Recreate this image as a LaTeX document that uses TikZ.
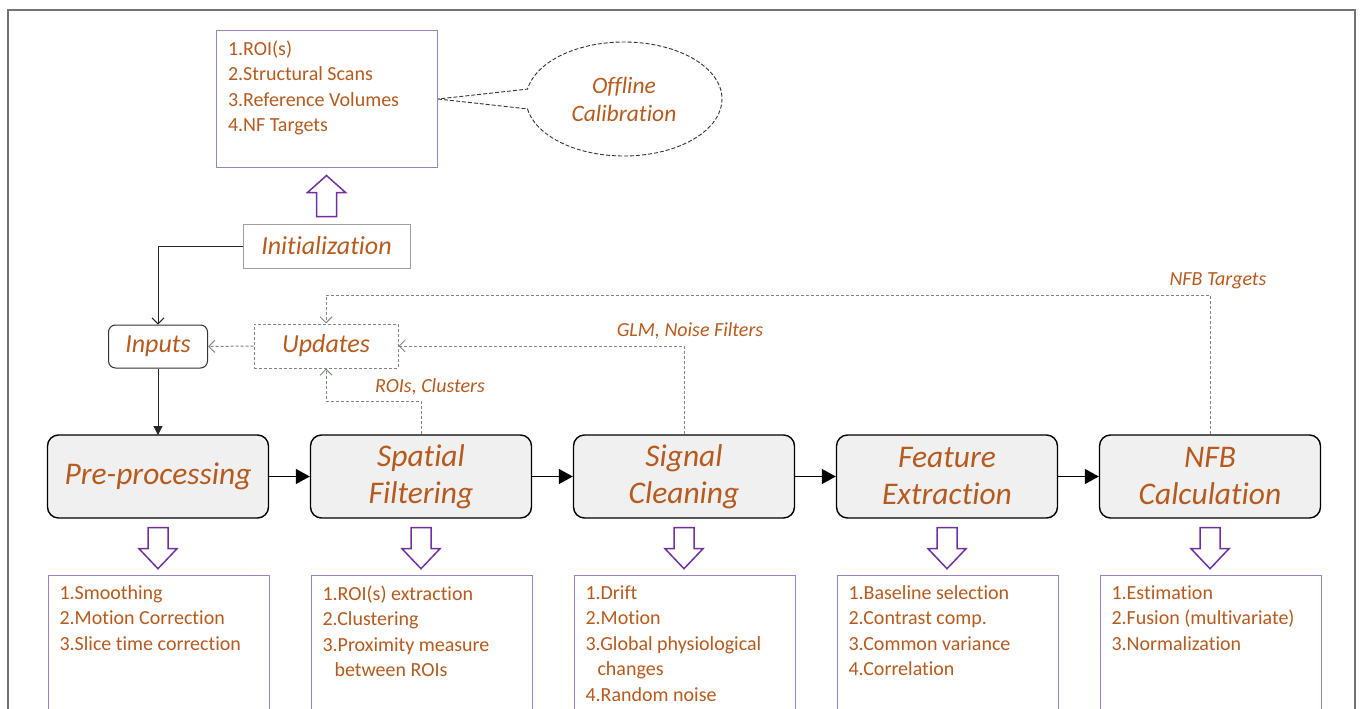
\documentclass[tikz,border=0pt]{standalone}
\usepackage{fontspec}
\setmainfont{Carlito}[Ligatures=NoCommon]
\usepackage{xcolor}
\usepackage{tikz}
\usetikzlibrary{arrows.meta,shapes.callouts}

\definecolor{txtbrown}{HTML}{B65A1E}
\definecolor{boxpurple}{HTML}{9A84BE}
\definecolor{arrpurple}{HTML}{7030A0}
\definecolor{dashgray}{HTML}{7C897C}
\definecolor{blockfill}{HTML}{F0F0F0}

\newcommand{\itemlist}[2]{\parbox[t][#1][t]{198pt}{#2}}

\begin{document}
\begin{tikzpicture}[
  x=1pt,y=-1pt,
  block/.style={draw=black,line width=1.4pt,rounded corners=11pt,fill=blockfill,
                minimum width=221pt,minimum height=83pt,align=center,text=txtbrown,
                font=\fontsize{31.5}{37}\selectfont\itshape},
  listbox/.style={draw=boxpurple,line width=1pt,fill=white,anchor=north west,
                  minimum width=221pt,inner xsep=11pt,inner ysep=10pt,text=txtbrown,
                  font=\fontsize{20}{25.5}\selectfont},
  initbox/.style={draw=gray!75,line width=1pt,minimum width=167pt,minimum height=44pt,
                  text=txtbrown,font=\fontsize{26}{30}\selectfont\itshape},
  inbox/.style={draw=gray!40!black,line width=1pt,rounded corners=7pt,minimum width=99pt,
                minimum height=43pt,text=txtbrown,font=\fontsize{26}{30}\selectfont\itshape},
  updbox/.style={draw=dashgray,line width=1pt,dash pattern=on 3pt off 2pt,minimum width=144pt,
                 minimum height=44pt,text=txtbrown,font=\fontsize{26}{30}\selectfont\itshape},
  bubble/.style={ellipse callout,draw=gray!40!black,line width=0.9pt,dash pattern=on 4pt off 2pt,
                 minimum width=196pt,minimum height=114pt,callout pointer arc=20,align=center,
                 text=txtbrown,font=\fontsize{23.5}{28}\selectfont\itshape},
  hollow/.style={draw=arrpurple,line width=1.5pt,fill=white,line join=miter},
  flow/.style={-{Triangle[length=14pt,width=15pt]},line width=1.3pt,draw=black},
  feed/.style={-{Straight Barb[length=6pt,width=12pt]},line width=1pt,draw=dashgray,
               dash pattern=on 3pt off 2pt},
  thinar/.style={line width=1pt,draw=gray!30!black},
  lbl/.style={text=txtbrown,font=\fontsize{20}{24}\selectfont\itshape,inner sep=2pt}
]
\useasboundingbox (0,0) rectangle (1360,709);
\clip (0,0) rectangle (1360,709);

%%%%%%%%%%%%%%%%%%%%%% frame %%%%%%%%%%%%%%%%%%%%%%%%%%%%%%%%%%%%%%%%%%%%%%
\draw[gray!90!black,line width=2pt] (8,720) -- (8,10) -- (1355,10) -- (1355,720);

%%%%%%%%%%%%%%%%%%%%%% offline calibration %%%%%%%%%%%%%%%%%%%%%%%%%%%%%%%%
\node[listbox] (calib) at (216,30) {\itemlist{117pt}{1.ROI(s)\\2.Structural Scans\\3.Reference Volumes\\4.NF Targets}};
\node[bubble,callout absolute pointer={(calib.east)}] (offline) at (624,99) {Offline\\Calibration};
\node[initbox] (init) at (326.5,246) {Initialization};

\draw[hollow] (init.north) ++(-10,-7) -- ++(0,-24) -- ++(-9,0) -- ++(19,-17)
      -- ++(19,17) -- ++(-9,0) -- ++(0,24) -- cycle;

%%%%%%%%%%%%%%%%%%%%%% inputs / updates %%%%%%%%%%%%%%%%%%%%%%%%%%%%%%%%%%%
\node[inbox]  (inputs)  at (158,346.5) {Inputs};
\node[updbox] (updates) at (326,346)   {Updates};

\draw[thinar,-{Straight Barb[length=6pt,width=12pt]}] (init.west) -| (inputs.north);
\draw[thinar,-{Triangle[length=9pt,width=9pt]}] (inputs.south) -- (158,435);
\draw[feed] (updates.west) -- (inputs.east);

%%%%%%%%%%%%%%%%%%%%%% processing chain %%%%%%%%%%%%%%%%%%%%%%%%%%%%%%%%%%%
\node[block] (prep)    at ( 158,476.5) {Pre-processing};
\node[block] (spatial) at ( 421,476.5) {Spatial\\Filtering};
\node[block] (signal)  at ( 684,476.5) {Signal\\Cleaning};
\node[block] (feature) at ( 947,476.5) {Feature\\Extraction};
\node[block] (nfb)     at (1210,476.5) {NFB\\Calculation};

\foreach \a/\b in {prep/spatial,spatial/signal,signal/feature,feature/nfb}
  \draw[flow] (\a.east) -- (\b.west);

\draw[feed] (spatial.north) -- ++(0,-33) node[lbl,above=4pt,xshift=9pt]{ROIs, Clusters} -| (updates.south);
\draw[feed] (signal.north) |- node[lbl,pos=0.5,above=4pt,xshift=6pt]{GLM, Noise Filters} (updates.east);
\draw[feed] (nfb.north) -- ++(0,-139) node[lbl,above=4pt,xshift=8pt]{NFB Targets} -| (updates.north);

%%%%%%%%%%%%%%%%%%%%%% details per stage %%%%%%%%%%%%%%%%%%%%%%%%%%%%%%%%%%
\foreach \n in {prep,spatial,signal,feature,nfb}
  \draw[hollow] (\n.south) ++(-10,9) -- ++(20,0) -- ++(0,21) -- ++(9,0) -- ++(-19,20)
        -- ++(-19,-20) -- ++(9,0) -- cycle;

\node[listbox] (prepl)    at (  47.5,575) {\itemlist{150pt}{1.Smoothing\\2.Motion Correction\\3.Slice time correction}};
\node[listbox] (spatiall) at ( 310.5,575) {\itemlist{150pt}{1.ROI(s) extraction\\2.Clustering\\3.Proximity measure\\\hspace*{12pt}between ROIs}};
\node[listbox] (signall)  at ( 573.5,575) {\itemlist{150pt}{1.Drift\\2.Motion\\3.Global physiological\\\hspace*{12pt}changes\\4.Random noise}};
\node[listbox] (featurel) at ( 836.5,575) {\itemlist{150pt}{1.Baseline selection\\2.Contrast comp.\\3.Common variance\\4.Correlation}};
\node[listbox] (nfbl)     at (1099.5,575) {\itemlist{150pt}{1.Estimation\\2.Fusion (multivariate)\\3.Normalization}};
\end{tikzpicture}
\end{document}
